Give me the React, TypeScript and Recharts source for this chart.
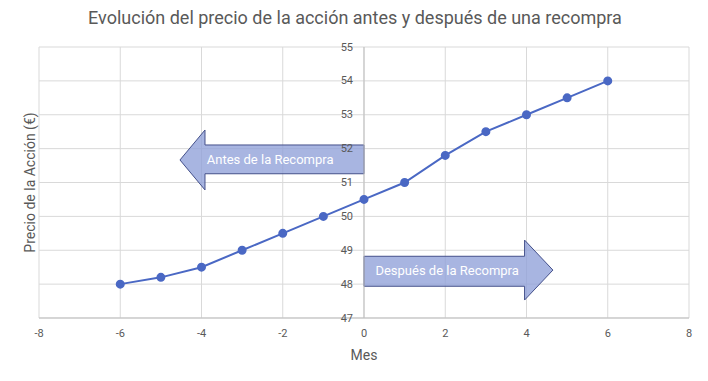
import React from "react";
import {
  LineChart,
  Line,
  XAxis,
  YAxis,
  CartesianGrid,
  ReferenceLine,
  ReferenceArea,
} from "recharts";

const months = [-6, -5, -4, -3, -2, -1, 0, 1, 2, 3, 4, 5, 6];
const prices = [48, 48.2, 48.5, 49, 49.5, 50, 50.5, 51, 51.8, 52.5, 53, 53.5, 54];
const xTicks = [-8, -6, -4, -2, 0, 2, 4, 6, 8];
const yTicks = [47, 48, 49, 50, 51, 52, 53, 54, 55];

// arrow boxes in data units
const beforeArrow = { x1: -4.53, x2: 0, y1: 50.78, y2: 52.55, label: "Antes de la Recompra" };
const afterArrow = { x1: 0, x2: 4.65, y1: 47.53, y2: 49.3, label: "Después de la Recompra" };

const data = months.map((m, i) => ({ mes: m, precio: prices[i] }));

const W = 708;
const H = 381;
const M = { top: 47, right: 19, bottom: 63, left: 39 };
const PLOT_W = W - M.left - M.right;
const FONT = "Roboto, 'Noto Sans', sans-serif";
const GRAY = "#595959";
const X_AXIS_H = 30;
const Y_AXIS_W = 10;

const renderYTick = (props: any) => {
  const { y, payload } = props;
  return (
    <text
      x={M.left + PLOT_W / 2 - 11}
      y={y}
      textAnchor="end"
      dominantBaseline="central"
      fill={GRAY}
      stroke="none"
      fontSize={11}
      fontFamily={FONT}
    >
      {payload.value}
    </text>
  );
};

const renderYLabel = (props: any) => {
  const { viewBox } = props;
  const cy = viewBox ? viewBox.y + viewBox.height / 2 : 182;
  return (
    <text
      x={30}
      y={cy}
      transform={`rotate(-90, 30, ${cy})`}
      textAnchor="middle"
      dominantBaseline="central"
      fill={GRAY}
      fontSize={14}
      fontFamily={FONT}
    >
      Precio de la Acción (€)
    </text>
  );
};

const arrowShape = (dir: "left" | "right", label: string) => (props: any) => {
  const { x, y, width, height } = props;
  const fill = "rgba(143,160,216,0.78)";
  const stroke = "#44508a";
  let pts: number[][];
  if (dir === "left") {
    const head = width * 0.136;
    const bt = y + height * 0.25;
    const bb = y + height * 0.73;
    pts = [
      [x, y + height / 2],
      [x + head, y],
      [x + head, bt],
      [x + width, bt],
      [x + width, bb],
      [x + head, bb],
      [x + head, y + height],
    ];
  } else {
    const hb = x + width * 0.85;
    const bt = y + height * 0.27;
    const bb = y + height * 0.77;
    pts = [
      [x, bt],
      [hb, bt],
      [hb, y],
      [x + width, y + height / 2],
      [hb, y + height],
      [hb, bb],
      [x, bb],
    ];
  }
  const cx = dir === "left" ? x + width * 0.49 : x + width * 0.44;
  return (
    <g>
      <polygon
        points={pts.map((p) => p.join(",")).join(" ")}
        fill={fill}
        stroke={stroke}
        strokeWidth={1}
      />
      <text
        x={cx}
        y={y + height / 2}
        textAnchor="middle"
        dominantBaseline="central"
        fill="#ffffff"
        fontSize={13}
        fontFamily={FONT}
      >
        {label}
      </text>
    </g>
  );
};

export default function App() {
  return (
    <div
      style={{
        margin: -8,
        width: W,
        height: H,
        position: "relative",
        background: "#fff",
        boxSizing: "border-box",
        border: "1px solid #d9d9d9",
        fontFamily: FONT,
      }}
    >
      <div
        style={{
          position: "absolute",
          top: 6,
          left: 0,
          width: W,
          textAlign: "center",
          fontSize: 18,
          color: GRAY,
        }}
      >
        Evolución del precio de la acción antes y después de una recompra
      </div>
      <LineChart
        width={W}
        height={H}
        data={data}
        margin={{
          top: M.top,
          right: M.right,
          bottom: M.bottom - X_AXIS_H,
          left: M.left - Y_AXIS_W,
        }}
        style={{ position: "absolute", top: -1, left: -1 }}
      >
        <CartesianGrid stroke="#d9d9d9" />
        <XAxis
          dataKey="mes"
          type="number"
          domain={[-8, 8]}
          ticks={xTicks}
          interval={0}
          height={X_AXIS_H}
          axisLine={{ stroke: "#bfbfbf" }}
          tickLine={false}
          tick={{ fill: GRAY, stroke: "none", fontSize: 11, fontFamily: FONT }}
          tickMargin={5}
          label={{
            value: "Mes",
            position: "bottom",
            offset: 2,
            fill: GRAY,
            fontSize: 14,
            fontFamily: FONT,
          }}
        />
        <YAxis
          type="number"
          domain={[47, 55]}
          ticks={yTicks}
          interval={0}
          width={Y_AXIS_W}
          axisLine={false}
          tickLine={false}
          tick={renderYTick}
          label={renderYLabel}
        />
        <ReferenceLine x={0} stroke="#bfbfbf" />
        <ReferenceArea
          x1={beforeArrow.x1}
          x2={beforeArrow.x2}
          y1={beforeArrow.y1}
          y2={beforeArrow.y2}
          shape={arrowShape("left", beforeArrow.label)}
        />
        <ReferenceArea
          x1={afterArrow.x1}
          x2={afterArrow.x2}
          y1={afterArrow.y1}
          y2={afterArrow.y2}
          shape={arrowShape("right", afterArrow.label)}
        />
        <Line
          dataKey="precio"
          stroke="#4a68c4"
          strokeWidth={2}
          dot={{ r: 3.5, fill: "#4a68c4", stroke: "#4a68c4" }}
          isAnimationActive={false}
        />
      </LineChart>
    </div>
  );
}
